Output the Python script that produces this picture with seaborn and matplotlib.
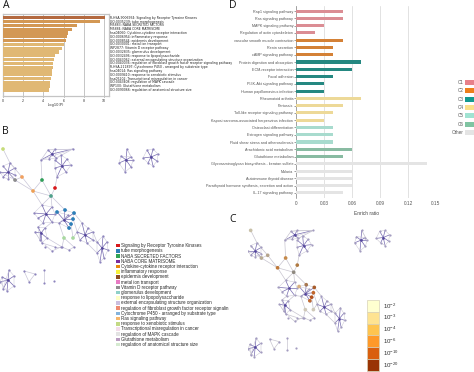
import numpy as np
import pandas as pd
import seaborn as sns
import matplotlib.pyplot as plt
from matplotlib.patches import Rectangle

W, H = 474, 372

# panel A
a_labels = [
    "R-HSA-9006934: Signaling by Receptor Tyrosine Kinases",
    "GO:0035239: tube morphogenesis",
    "M5883: NABA SECRETED FACTORS",
    "M5884: NABA CORE MATRISOME",
    "hsa04060: Cytokine-cytokine receptor interaction",
    "GO:0006954: inflammatory response",
    "GO:0008544: epidermis development",
    "GO:0030001: metal ion transport",
    "WP2877: Vitamin D receptor pathway",
    "GO:0032835: glomerulus development",
    "GO:0032496: response to lipopolysaccharide",
    "GO:0043062: external encapsulating structure organization",
    "GO:0040036: regulation of fibroblast growth factor receptor signaling pathway",
    "R-HSA-211897: Cytochrome P450 - arranged by substrate type",
    "hsa04014: Ras signaling pathway",
    "GO:0009410: response to xenobiotic stimulus",
    "hsa05202: Transcriptional misregulation in cancer",
    "GO:0043408: regulation of MAPK cascade",
    "WP100: Glutathione metabolism",
    "GO:0090066: regulation of anatomical structure size",
]
a_values = [10.1, 9.6, 7.3, 6.8, 6.4, 6.3, 6.2, 6.0, 5.8, 5.5,
            5.2, 5.1, 5.0, 5.0, 4.9, 4.9, 4.8, 4.7, 4.7, 4.6]
a_level = ["a"] + ["b"] * 6 + ["c"] * 13
a_colors = {"a": "#c8652c", "b": "#e8993f", "c": "#f2bd62"}

# panel D
d_labels = [
    "Rap1 signaling pathway", "Ras signaling pathway", "MAPK signaling pathway",
    "Regulation of actin cytoskeleton", "vascular smooth muscle contraction",
    "Renin secretion", "cAMP signaling pathway", "Protein digestion and absorption",
    "ECM-receptor interaction", "Focal adhesion", "PI3K-Akt signaling pathway",
    "Human papillomavirus infection", "Rheumatoid arthritis", "Pertussis",
    "Toll-like receptor signaling pathway", "Kaposi sarcoma-associated herpesvirus infection",
    "Osteoclast differentiation", "Estrogen signaling pathway",
    "Fluid shear stress and atherosclerosis", "Arachidonic acid metabolism",
    "Glutathione metabolism", "Glycosaminoglycan biosynthesis - keratan sulfate",
    "Malaria", "Autoimmune thyroid disease",
    "Parathyroid hormone synthesis, secretion and action", "IL-17 signaling pathway",
]
d_values = [0.05, 0.05, 0.03, 0.02, 0.05, 0.04, 0.04, 0.07, 0.06, 0.04, 0.03, 0.03, 0.07,
            0.05, 0.04, 0.03, 0.04, 0.04, 0.04, 0.06, 0.05, 0.14, 0.06, 0.06, 0.06, 0.05]
d_cluster = ["C1"] * 4 + ["C2"] * 3 + ["C3"] * 5 + ["C4"] * 4 + ["C5"] * 3 + ["C6"] * 2 + ["Other"] * 5
d_colors = {"C1": "#e8808a", "C2": "#ee7f1c", "C3": "#14998f", "C4": "#fbe08a",
            "C5": "#a0e3d2", "C6": "#80c4a2", "Other": "#e4e4e4"}

# panel B legend
b_terms = [
    "Signaling by Receptor Tyrosine Kinases", "tube morphogenesis", "NABA SECRETED FACTORS",
    "NABA CORE MATRISOME", "Cytokine-cytokine receptor interaction", "inflammatory response",
    "epidermis development", "metal ion transport", "Vitamin D receptor pathway",
    "glomerulus development", "response to lipopolysaccharide",
    "external encapsulating structure organization",
    "regulation of fibroblast growth factor receptor signalin",
    "Cytochrome P450 - arranged by substrate type", "Ras signaling pathway",
    "response to xenobiotic stimulus", "Transcriptional misregulation in cancer",
    "regulation of MAPK cascade", "Glutathione metabolism",
    "regulation of anatomical structure size",
]
b_term_colors = ["#d7191c", "#2c7fb8", "#31a354", "#7b2d9e", "#e8890c", "#f7f13c", "#8c4a22",
                 "#e77ac3", "#8f8f8f", "#8fd0c8", "#ffffc8", "#cbbfe0", "#ee8a70", "#85b4dc",
                 "#f7b76b", "#c3d985", "#f3dcea", "#e3e3e3", "#b99cc0", "#d5ead0"]

# panel C colour key
c_key_labels = ["$10^{-2}$", "$10^{-3}$", "$10^{-4}$", "$10^{-6}$", "$10^{-10}$", "$10^{-20}$"]
c_key_colors = ["#ffffd0", "#fee391", "#fec44f", "#fe9929", "#d95f0e", "#993404"]

# network layout
hubs = {
    (151, 32): [(147, 25), (153, 24), (158, 29), (157, 36), (153, 41), (148, 38), (143, 33)],
    (126, 35): [(127, 24), (133, 35), (131, 42), (125, 47), (119, 38), (121, 31), (131, 32)],
    (8, 47): [(3, 41), (10, 38), (15, 43), (15, 50), (8, 54), (3, 52), (0, 47), (15, 55)],
    (62, 41): [(61, 30), (67, 34), (71, 40), (66, 47), (57, 52), (55, 43), (55, 35)],
    (52, 29): [(48, 25), (55, 24), (56, 33), (49, 34), (41, 35), (73, 24)],
    (46, 89): [(42, 80), (52, 82), (55, 89), (52, 97), (43, 98), (38, 93), (34, 88)],
    (64, 95): [(57, 87), (65, 85), (74, 88), (73, 94), (71, 99), (69, 103), (59, 98), (68, 90)],
    (41, 108): [(38, 102), (45, 103), (47, 113), (42, 118), (35, 107), (40, 115)],
    (85, 110): [(82, 98), (88, 103), (93, 107), (93, 115), (87, 118), (80, 115), (77, 107)],
    (102, 123): [(103, 111), (107, 117), (108, 125), (104, 133), (100, 137), (97, 128), (97, 117)],
    (8, 155): [(9, 145), (14, 151), (14, 161), (7, 166), (0, 157), (2, 152), (3, 164)],
}
links = [
    ((3, 24), (10, 38)), ((10, 38), (22, 52)), ((22, 52), (33, 66)), ((15, 55), (22, 52)),
    ((15, 55), (33, 66)), ((33, 66), (51, 71)), ((41, 35), (42, 55)), ((42, 55), (51, 71)),
    ((42, 55), (33, 66)), ((57, 52), (55, 63)), ((55, 63), (51, 71)), ((51, 71), (52, 82)),
    ((51, 71), (42, 80)), ((51, 71), (65, 85)), ((33, 66), (42, 80)), ((41, 35), (48, 25)),
    ((55, 24), (73, 24)), ((56, 33), (73, 24)), ((74, 88), (82, 98)), ((73, 94), (80, 115)),
    ((52, 97), (59, 98)), ((55, 89), (57, 87)), ((43, 98), (38, 102)), ((52, 97), (45, 103)),
    ((59, 98), (64, 113)), ((64, 113), (62, 122)), ((71, 99), (73, 113)), ((73, 113), (77, 107)),
    ((47, 113), (62, 122)), ((42, 118), (55, 122)), ((55, 122), (62, 122)), ((62, 122), (69, 125)),
    ((69, 125), (74, 122)), ((74, 122), (64, 113)), ((93, 115), (97, 117)), ((93, 107), (97, 117)),
    ((87, 118), (97, 128)), ((45, 120), (52, 126)), ((52, 126), (61, 122)),
    ((24, 146), (35, 149)), ((35, 149), (29, 157)), ((29, 157), (24, 146)), ((44, 145), (44, 158)),
]
colored = {  # node: (colour in B, colour in C)
    (3, 24): ("#c6dc7a", "#c8c0a8"), (22, 52): ("#f0a060", "#b5a48c"),
    (33, 66): ("#eea055", "#c07a3a"), (42, 55): ("#2f9e58", "#c58a4a"),
    (55, 63): ("#d7191c", "#b07a42"), (51, 71): ("#4fa08a", "#8f8a80"),
    (57, 87): ("#2c7fb8", "#d8b080"), (65, 85): ("#2c7fb8", "#a87850"),
    (74, 88): ("#2c7fb8", "#a85c2a"), (73, 94): ("#2c7fb8", "#c2662a"),
    (71, 99): ("#2c7fb8", "#b4511c"), (69, 103): ("#2c7fb8", "#c06a30"),
    (64, 113): ("#a8d8a0", "#cfc8b8"), (73, 113): ("#a8d8a0", "#cfc8b8"),
    (15, 55): ("#8c8c8c", "#b8ac94"),
}
extra_nodes = [(54, 156), (45, 122), (61, 122), (69, 125), (62, 122), (74, 122), (55, 122), (52, 126),
               (24, 146), (35, 149), (29, 157), (44, 145), (44, 158)]

sns.set_theme(style="white")
plt.rcParams["font.family"] = ["Liberation Sans", "DejaVu Sans"]
plt.rcParams["mathtext.default"] = "regular"
fig = plt.figure(figsize=(W / 100, H / 100), dpi=100)


def px_axes(x0, y0, x1, y1):
    # axes placed by picture pixels, y measured from the top
    return fig.add_axes([x0 / W, 1 - y1 / H, (x1 - x0) / W, (y1 - y0) / H])


# A
ax = px_axes(3, 14, 109, 96)
df_a = pd.DataFrame({"term": a_labels, "value": a_values, "level": a_level})
sns.barplot(data=df_a, x="value", y="term", hue="level", palette=a_colors, dodge=False,
            legend=False, width=0.86, linewidth=0, ax=ax, zorder=3)
ax.set_xlim(0, 10.5)
ax.set_ylim(20.6, -1.0)
ax.set_xticks([0, 2, 4, 6, 8, 10])
ax.tick_params(axis="x", labelsize=2.6, length=1, width=0.4, pad=0.8, colors="#333333", bottom=True)
ax.set_yticks([])
ax.set_xlabel("-log10(P)", fontsize=2.6, labelpad=0.3, color="#333333", family="DejaVu Sans")
ax.set_ylabel("")
ax.grid(axis="x", color="#bbbbbb", linewidth=0.6, zorder=0)
ax.set_axisbelow(True)
for s in ax.spines.values():
    s.set_color("#c4c4c4")
    s.set_linewidth(0.9)
for i, t in enumerate(a_labels):
    ax.annotate(t, xy=(1, i), xycoords=("axes fraction", "data"), xytext=(1, 0),
                textcoords="offset points", fontsize=2.25, va="center", color="#222222",
                family="DejaVu Sans", annotation_clip=False)

# D
ax = px_axes(296, 6, 436, 198)
df_d = pd.DataFrame({"path": d_labels, "ratio": d_values, "cluster": d_cluster})
sns.barplot(data=df_d, x="ratio", y="path", hue="cluster", palette=d_colors, dodge=False,
            legend=False, width=0.42, linewidth=0, ax=ax, zorder=3)
ax.set_xlim(0, 0.15)
ax.set_ylim(25.7, -0.7)
ax.set_xticks([0, 0.03, 0.06, 0.09, 0.12, 0.15])
ax.set_xticklabels(["0", "0.03", "0.06", "0.09", "0.12", "0.15"])
ax.tick_params(axis="x", labelsize=3.4, length=0, pad=2.5, colors="#555555")
ax.tick_params(axis="y", labelsize=2.7, length=1.2, width=0.4, pad=0.8, colors="#555555", left=True)
ax.set_xlabel("Enrich ratio", fontsize=3.5, labelpad=3, color="#444444")
ax.set_ylabel("")
ax.grid(axis="x", color="#e2e2e2", linewidth=0.7, zorder=0)
ax.set_axisbelow(True)
sns.despine(ax=ax, top=True, right=True, bottom=True)
ax.spines["left"].set_color("#888888")
ax.spines["left"].set_linewidth(0.5)


# networks B and C use the same layout
def draw_network(ax, pal_idx, hub_color, leaf_color, edge_color):
    for hub, leaves in hubs.items():
        for leaf in leaves:
            ax.plot([hub[0], leaf[0]], [hub[1], leaf[1]], color=hub_color, lw=0.5, alpha=0.8, zorder=1)
        for a, b in zip(leaves, leaves[1:] + leaves[:1]):
            ax.plot([a[0], b[0]], [a[1], b[1]], color=edge_color, lw=0.35, zorder=1)
    for a, b in links:
        ax.plot([a[0], b[0]], [a[1], b[1]], color=edge_color, lw=0.5, zorder=1)
    leaf_pts = [p for v in hubs.values() for p in v] + extra_nodes
    sns.scatterplot(x=[p[0] for p in leaf_pts], y=[p[1] for p in leaf_pts], s=2.5, color=leaf_color,
                    linewidth=0, ax=ax, zorder=2)
    sns.scatterplot(x=[p[0] for p in hubs], y=[p[1] for p in hubs], s=3.5, color=hub_color,
                    linewidth=0, ax=ax, zorder=3)
    sns.scatterplot(x=[p[0] for p in colored], y=[p[1] for p in colored], s=7,
                    color=[v[pal_idx] for v in colored.values()], linewidth=0, ax=ax, zorder=4)
    ax.set_xlim(0, 240)
    ax.set_ylim(247, 0)
    ax.axis("off")
    ax.patch.set_alpha(0)


draw_network(px_axes(0, 125, 240, 372), 0, "#54469c", "#8d84bd", "#c9c6d8")
draw_network(px_axes(248, 209, 463, 429), 1, "#54469c", "#a39cc0", "#c8c5d0")

# overlay for legends and panel letters, in picture pixels
ov = fig.add_axes([0, 0, 1, 1], zorder=10)
ov.set_xlim(0, W)
ov.set_ylim(H, 0)
ov.axis("off")
ov.patch.set_alpha(0)

for i, (t, c) in enumerate(zip(b_terms, b_term_colors)):
    y = 245.7 + i * 5.2
    ov.add_patch(Rectangle((116.3, y - 1.8), 3.6, 3.6, color=c, lw=0))
    ov.text(120.6, y, t, fontsize=3.25, va="center", color="#2a2a2a")

for i, k in enumerate(d_colors):
    y = 82.5 + i * 8.3
    ov.add_patch(Rectangle((465, y - 2.5), 9, 5, color=d_colors[k], lw=0))
    ov.text(463.5, y, k, fontsize=3.3, va="center", ha="right", color="#555555")

for i, (t, c) in enumerate(zip(c_key_labels, c_key_colors)):
    y = 300 + i * 11.8
    ov.add_patch(Rectangle((367, y), 12, 11.8, facecolor=c, edgecolor="#d8d2b8", lw=0.5))
    ov.text(383, y + 6, t, fontsize=4.4, va="center", color="#333333")

for t, x, y in [("A", 3, 5), ("B", 2, 131), ("D", 229, 5), ("C", 229, 219)]:
    ov.text(x, y, t, fontsize=7.5, va="center", color="#111111", family="Open Sans")

fig.savefig("out.png", dpi=100)
